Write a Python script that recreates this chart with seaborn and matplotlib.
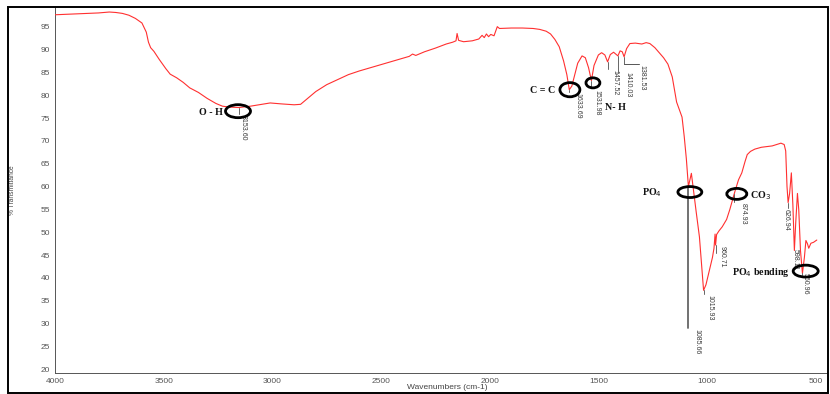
import matplotlib
matplotlib.use("Agg")
import matplotlib.pyplot as plt
from matplotlib.patches import Ellipse, Rectangle
import seaborn as sns
import pandas as pd

# FTIR spectrum: wavenumber (cm-1) and % transmittance
wavenumber = [
    4000, 3950, 3900, 3850, 3800, 3750, 3720, 3690, 3660, 3630, 3600, 3580,
    3570, 3560, 3545, 3520, 3490, 3470, 3440, 3410, 3380, 3340, 3300, 3260,
    3230, 3200, 3153.6, 3100, 3050, 3010, 2960, 2900, 2870, 2840, 2800, 2750,
    2700, 2650, 2600, 2550, 2500, 2450, 2400, 2370, 2355, 2340, 2300, 2250,
    2200, 2170, 2155, 2150, 2143, 2120, 2080, 2050, 2035, 2025, 2015, 2005,
    1995, 1980, 1965, 1955, 1900, 1850, 1800, 1770, 1740, 1720, 1700, 1680,
    1660, 1645, 1633.7, 1622, 1610, 1595, 1575, 1560, 1545, 1532, 1520, 1500,
    1485, 1470, 1457.5, 1445, 1430, 1420, 1410, 1400, 1390, 1381.5, 1370,
    1355, 1330, 1300, 1280, 1263, 1240, 1220, 1200, 1180, 1160, 1140, 1125,
    1115, 1105, 1095, 1085.7, 1072, 1062, 1050, 1035, 1025, 1015.9, 1005, 990,
    975, 968, 963, 960.7, 956, 945, 930, 910, 895, 880, 874.9, 870, 855, 840,
    825, 815, 800, 780, 750, 700, 660, 645, 638, 632, 626.9, 620, 612, 605,
    598.1, 592, 584, 578, 570, 561, 552, 545, 538, 532, 522, 510, 495,
]
transmittance = [
    97.6, 97.7, 97.8, 97.9, 98.0, 98.2, 98.1, 97.9, 97.5, 96.8, 95.8, 93.8,
    91.6, 90.4, 89.6, 87.8, 85.8, 84.6, 83.8, 82.8, 81.6, 80.6, 79.3, 78.2,
    77.6, 77.4, 77.3, 77.6, 78.0, 78.3, 78.1, 77.9, 78.0, 79.2, 80.8, 82.3,
    83.4, 84.5, 85.3, 86.0, 86.7, 87.4, 88.1, 88.5, 89.0, 88.7, 89.5, 90.3,
    91.2, 91.6, 91.9, 93.5, 92.0, 91.7, 91.9, 92.3, 93.1, 92.6, 93.4, 92.8,
    93.3, 93.0, 95.0, 94.6, 94.7, 94.7, 94.6, 94.4, 94.0, 93.4, 92.2, 90.6,
    87.5, 84.5, 81.2, 82.0, 84.2, 87.0, 88.6, 88.2, 86.0, 83.2, 86.5, 88.8,
    89.3, 88.8, 87.3, 88.9, 89.4, 89.0, 88.6, 89.7, 89.5, 88.4, 90.2,
    91.3, 91.4, 91.2, 91.5, 91.3, 90.4, 89.3, 88.2, 86.8, 84.0, 78.5, 76.5,
    75.2, 71.0, 66.0, 60.0, 62.9, 59.0, 54.5, 49.0, 43.0, 37.3, 38.5, 41.5,
    44.5, 46.5, 49.6, 47.2, 49.5, 50.3, 51.2, 52.8, 55.0, 57.6, 58.4, 59.2,
    61.5, 63.0, 65.5, 67.0, 67.7, 68.2, 68.6, 68.9, 69.5, 69.2, 67.8, 60.0,
    56.5, 58.5, 63.0, 56.0, 46.0, 52.0, 58.5, 55.0, 46.0, 41.0, 44.5, 48.2,
    47.5, 46.5, 47.6, 47.8, 48.3,
]

# Labelled peak positions
peak_labels = ["3153.60", "1633.69", "1531.98", "1457.52", "1410.03",
               "1381.53", "1085.66", "1015.93", "960.71", "874.93",
               "626.94", "598.11", "560.96"]
peak_wavenumber = [3153.6, 1633.69, 1531.98, 1457.52, 1410.03, 1381.53,
                   1085.66, 1015.93, 960.71, 874.93, 626.94, 598.11, 560.96]
peak_transmittance = [77.3, 81.2, 83.2, 87.3, 88.6, 88.4, 60.0, 37.3, 47.2,
                      58.4, 56.5, 46.0, 41.0]

# Functional group assignments
group_labels = ["O - H", "C = C", "N- H", "PO$_4$", "CO$_3$", "PO$_4$ bending"]
group_wavenumber = [3153.6, 1633.69, 1531.98, 1085.66, 874.93, 560.96]

sns.set_style("white")
plt.rcParams["font.family"] = ["Liberation Sans", "DejaVu Sans"]

fig = plt.figure(figsize=(8.3, 3.94), dpi=100)
ax = fig.add_axes([55 / 830, 21 / 394, 772 / 830, 366 / 394])

spec = pd.DataFrame({"wavenumber": wavenumber, "transmittance": transmittance})
sns.lineplot(data=spec, x="wavenumber", y="transmittance", sort=False,
             color="#ff3030", linewidth=0.8, ax=ax, zorder=3)

ax.set_xlim(4000, 448)
ax.set_ylim(19.2, 99.3)
ax.set_xticks([4000, 3500, 3000, 2500, 2000, 1500, 1000, 500])
ax.set_xticks(list(range(4000, 449, -100)), minor=True)
ax.set_yticks(list(range(20, 96, 5)))
ax.set_yticks(list(range(20, 99)), minor=True)
ax.tick_params(axis="both", which="major", direction="inout", length=4,
               width=0.6, color="#555555", labelsize=6, labelcolor="#555555",
               pad=1.5)
ax.tick_params(axis="both", which="minor", direction="inout", length=2,
               width=0.5, color="#666666")
for side in ("top", "right"):
    ax.spines[side].set_visible(False)
for side in ("left", "bottom"):
    ax.spines[side].set_color("#555555")
    ax.spines[side].set_linewidth(0.7)

ax.set_xlabel("Wavenumbers (cm-1)", fontsize=6, color="#444444")
ax.xaxis.set_label_coords((447 - 55) / 772, -0.03)
ax.set_ylabel("% Transmittance", fontsize=4.8, color="#444444")
ax.yaxis.set_label_coords(-(55 - 16) / 772, (373 - 190) / 366)

# Peak leaders and value labels (offsets in cm-1 and %T)
label_style = dict(rotation=270, fontsize=5, color="#3a3a3a",
                   ha="center", va="top", zorder=4)
leader = dict(color="#555555", linewidth=0.7, zorder=4)
text_pos = {
    "3153.60": (-18, -1.6, -1.4),
    "1633.69": (-40, -0.7, -0.6),
    "1531.98": (-25, -2.0, -1.7),
    "1457.52": (-33, -1.8, -1.5),
    "1410.03": (-45, -3.6, -3.8),
    "1381.53": (-80, -1.8, -1.5),
    "1085.66": (-38, -31.2, -31.0),
    "1015.93": (-29, -1.0, -0.8),
    "960.71": (-28, -0.3, -1.8),
    "874.93": (-40, -2.0, -1.8),
    "626.94": (10, -1.3, -1.2),
    "598.11": (-4, 0.4, -0.2),
    "560.96": (-15, 0.0, -0.4),
}
for lab, w, t in zip(peak_labels, peak_wavenumber, peak_transmittance):
    dx, dy_text, dy_lead = text_pos[lab]
    lw = 1.3 if lab == "1085.66" else 0.7
    ax.plot([w, w], [t, t + dy_lead], color="#666666", linewidth=lw, zorder=4)
    if lab == "1381.53":
        ax.plot([w, w + dx + 10], [t + dy_lead, t + dy_lead], **leader)
    ax.text(w + dx, t + dy_text, lab, **label_style)

# Group circles and names
ellipse_geom = {
    "O - H": (3158, 76.5, 115, 2.85),
    "C = C": (1631, 81.2, 92, 3.1),
    "N- H": (1525, 82.7, 64, 2.2),
    "PO$_4$": (1079, 58.8, 110, 2.4),
    "CO$_3$": (863, 58.4, 92, 2.4),
    "PO$_4$ bending": (546, 41.5, 115, 2.6),
}
name_pos = {
    "O - H": (3227, 76.3, "right"),
    "C = C": (1700, 81.1, "right"),
    "N- H": (1470, 77.2, "left"),
    "PO$_4$": (1300, 58.6, "left"),
    "CO$_3$": (803, 58.0, "left"),
    "PO$_4$ bending": (622, 41.3, "right"),
}
for name, w in zip(group_labels, group_wavenumber):
    cx, cy, ew, eh = ellipse_geom[name]
    ax.add_patch(Ellipse((cx, cy), ew, eh, fill=False, edgecolor="black",
                         linewidth=2.0, zorder=6))
    tx, ty, ha = name_pos[name]
    ax.text(tx, ty, name, fontsize=7.2, fontweight="bold",
            family=["Liberation Serif", "DejaVu Serif"], ha=ha, va="center",
            color="#111111", zorder=5)

# Outer frame
fig.patches.append(Rectangle((8 / 830, 1 / 394), 820 / 830, 386 / 394,
                             transform=fig.transFigure, fill=False,
                             edgecolor="black", linewidth=1.4))

fig.savefig("out.png", dpi=100)
